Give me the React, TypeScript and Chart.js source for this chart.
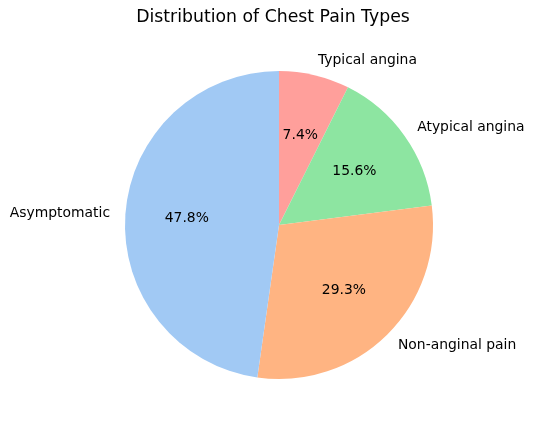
import React, { useEffect, useRef } from "react";
import { Chart, registerables } from "chart.js";

Chart.register(...registerables);

const categories = ["Typical angina", "Atypical angina", "Non-anginal pain", "Asymptomatic"];
const percents = [7.4, 15.6, 29.3, 47.8];
const colors = ["#ff9f9b", "#8de5a1", "#ffb482", "#a1c9f4"];
const titleText = "Distribution of Chest Pain Types";

const labelPlugin = {
  id: "pieLabels",
  afterDatasetsDraw(chart: any) {
    const ctx = chart.ctx;
    const meta = chart.getDatasetMeta(0);
    ctx.save();
    ctx.fillStyle = "#000";
    ctx.textBaseline = "middle";
    ctx.font = "13.9px 'DejaVu Sans'";
    meta.data.forEach((arc: any, i: number) => {
      const a = (arc.startAngle + arc.endAngle) / 2;
      const r = arc.outerRadius;
      const px = arc.x + Math.cos(a) * r * 0.6;
      const py = arc.y + Math.sin(a) * r * 0.6;
      ctx.textAlign = "center";
      ctx.fillText(percents[i].toFixed(1) + "%", px, py);
      const lx = arc.x + Math.cos(a) * r * 1.1;
      const ly = arc.y + Math.sin(a) * r * 1.1;
      ctx.textAlign = Math.cos(a) < 0 ? "right" : "left";
      ctx.fillText(categories[i], lx, ly);
    });
    ctx.font = "17.3px 'DejaVu Sans'";
    ctx.textAlign = "center";
    ctx.textBaseline = "middle";
    ctx.fillText(titleText, 273, 18);
    ctx.restore();
  },
};

export default function App() {
  const ref = useRef<HTMLCanvasElement>(null);
  useEffect(() => {
    document.body.style.margin = "0";
    const chart = new Chart(ref.current!, {
      type: "pie",
      data: {
        labels: categories,
        datasets: [
          {
            data: percents,
            backgroundColor: colors,
            borderWidth: 0,
          },
        ],
      },
      options: {
        animation: false,
        responsive: false,
        layout: { padding: { top: 71, bottom: 48, left: 125, right: 102 } },
        plugins: { legend: { display: false }, tooltip: { enabled: false }, title: { display: false } },
      },
      plugins: [labelPlugin],
    });
    return () => chart.destroy();
  }, []);
  return (
    <div style={{ width: 535, height: 427, background: "#fff" }}>
      <canvas ref={ref} width={535} height={427} style={{ display: "block" }} />
    </div>
  );
}
